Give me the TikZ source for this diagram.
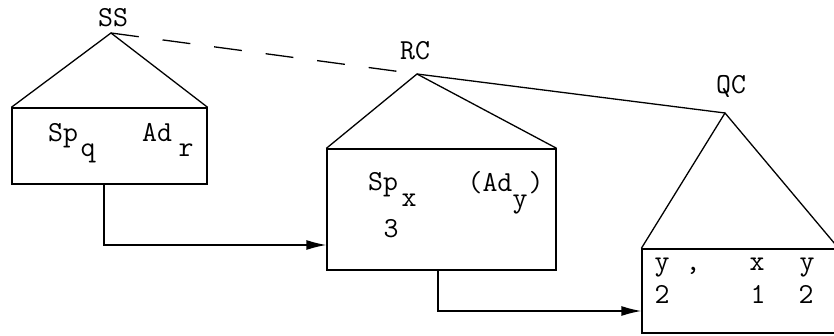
\documentclass[tikz,border=0pt]{standalone}
\usepackage{fontspec}
\usepackage{tikz}
\usetikzlibrary{arrows.meta, positioning, calc}

\tikzset{
  box/.style={draw, rectangle, line width=1.3pt, inner sep=0pt},
  txt/.style={inner sep=0pt, anchor=base, font=\ttfamily\fontsize{29}{32}\selectfont},
  flow/.style={line width=1.3pt, -{Latex[length=20pt, width=10pt]}},
}

\begin{document}
\begin{tikzpicture}[x=1pt, y=-1pt, line width=1.3pt]
    \useasboundingbox (0,0) rectangle (834,336);

    % Apexes of the three trees
    \coordinate (SS) at (111,33);
    \coordinate (RC) at (417,74);
    \coordinate (QC) at (725,113);

    % Boxes
    \node[box, minimum width=195pt, minimum height=76pt] (b1) at (109.5,146) {};
    \node[box, minimum width=229pt, minimum height=121pt] (b2) at (441.5,209.5) {};
    \node[box, minimum width=196pt, minimum height=84pt] (b3) at (740,291) {};

    % Triangles
    \draw (b1.north west) -- (SS) -- (b1.north east);
    \draw (b2.north west) -- (RC) -- (b2.north east);
    \draw (b3.north west) -- (QC) -- (b3.north east);

    % Links between the trees
    \draw[dash pattern=on 28pt off 24pt] (SS) -- (RC);
    \draw (RC) -- (QC);

    % Tree labels
    \node[txt] (ssl) at (113,27) {SS};
    \node[txt] (rcl) at (415,60) {RC};
    \node[txt] (qcl) at (731,94) {QC};

    % Box 1
    \node[txt] (sp1) at (63,142) {Sp};
    \node[txt] (q1) at (88,157) {q};
    \node[txt] (ad1) at (157,142) {Ad};
    \node[txt] (r1) at (186,157) {r};

    % Box 2
    \node[txt] (sp2) at (383,191) {Sp};
    \node[txt] (x2) at (409,207) {x};
    \node[txt] (ad2) at (490,192) {(Ad};
    \node[txt] (y2) at (520,208) {y};
    \node[txt] (rp2) at (536,192) {)};
    \node[txt] (n3) at (391,238) {3};

    % Box 3
    \node[txt] (y3) at (662,271) {y};
    \node[txt] (cm3) at (693,271) {,};
    \node[txt] (x3) at (757,271) {x};
    \node[txt] (yy3) at (807,271) {y};
    \node[txt] (t3) at (662,303) {2};
    \node[txt] (o3) at (758,303) {1};
    \node[txt] (tt3) at (806,303) {2};

    % Arrows
    \draw[flow] ([xshift=-5.5pt]b1.south) |- ([yshift=-35.5pt]b2.west);
    \draw[flow] ([xshift=-3.5pt]b2.south) |- ([yshift=-20pt]b3.west);
\end{tikzpicture}
\end{document}
